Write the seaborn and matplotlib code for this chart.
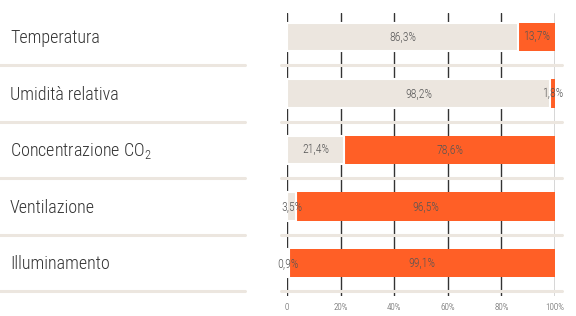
import matplotlib
matplotlib.use("Agg")
import matplotlib.pyplot as plt
import matplotlib.transforms as mtransforms
import matplotlib.font_manager as fm
import pandas as pd
import seaborn as sns

categories = ["Temperatura", "Umidità relativa", "Concentrazione CO$_\\mathregular{2}$",
              "Ventilazione", "Illuminamento"]
beige_vals = [86.3, 98.2, 21.4, 3.5, 0.9]
orange_vals = [13.7, 1.8, 78.6, 96.5, 99.1]
xticks = [0, 20, 40, 60, 80, 100]
xtick_labels = ["0", "20%", "40%", "60%", "80%", "100%"]

BEIGE = "#ECE6DF"
ORANGE = "#FF5F26"
TXT = "#555555"

sns.set_theme(style="white")
names = [f.name for f in fm.fontManager.ttflist]
fam = [f for f in ["Roboto Condensed", "Liberation Sans Narrow", "Roboto"] if f in names]
plt.rcParams["font.family"] = fam + ["DejaVu Sans"]
plt.rcParams["font.weight"] = "light"
plt.rcParams["mathtext.fontset"] = "custom"
plt.rcParams["mathtext.rm"] = fam[0] + ":light"

df = pd.DataFrame({"cat": categories, "beige": beige_vals, "orange": orange_vals})
df["total"] = df["beige"] + df["orange"]

fig = plt.figure(figsize=(5.76, 3.16), dpi=100)
W, H = 576, 316
ax = fig.add_axes([287 / W, 1 - 296 / H, 268 / W, (296 - 13) / H])

# orange full bar underneath, beige share on top with a white edge for the gap
sns.barplot(data=df, y="cat", x="total", color=ORANGE, width=0.5, orient="h",
            edgecolor="none", saturation=1, ax=ax, zorder=2)
sns.barplot(data=df, y="cat", x="beige", color=BEIGE, width=0.5, orient="h",
            edgecolor="white", linewidth=1.5, saturation=1, ax=ax, zorder=3)

ax.set_xlim(0, 100)
ax.set_ylim(4.58, -0.42)
ax.set_xticks(xticks)
ax.set_xticklabels(xtick_labels, fontsize=6.5, color=TXT)
ax.tick_params(axis="x", length=0, pad=5)
ax.set_yticks([])
ax.set_xlabel("")
ax.set_ylabel("")
ax.grid(axis="x", color="#333333", lw=1.0, zorder=1)
ax.grid(axis="y", visible=False)
for s in ax.spines.values():
    s.set_visible(False)
ax.set_axisbelow(True)

for i, (b, o) in enumerate(zip(beige_vals, orange_vals)):
    ax.text(b / 2, i, f"{b:.1f}%".replace(".", ","), ha="center", va="center",
            fontsize=8.5, color=TXT, zorder=5)
    ax.text(b + o / 2, i, f"{o:.1f}%".replace(".", ","), ha="center", va="center",
            fontsize=8.5, color=TXT, zorder=5)

trans = mtransforms.blended_transform_factory(fig.transFigure, ax.transData)
for i, c in enumerate(categories):
    ax.text(10 / W, i + 0.11, c, transform=trans, ha="left", va="baseline",
            fontsize=13, color="#333333")

# separators
for i in range(len(categories)):
    y = i + 0.5
    ax.plot([0, 245 / W], [y, y], transform=trans, color=BEIGE, lw=2.2,
            clip_on=False, zorder=6)
    ax.plot([281 / W, 562 / W], [y, y], transform=trans, color=BEIGE, lw=2.2,
            clip_on=False, zorder=6)

fig.savefig("out.png", dpi=100)
